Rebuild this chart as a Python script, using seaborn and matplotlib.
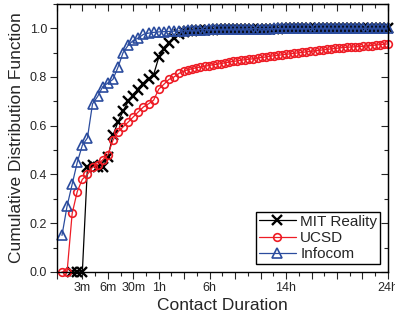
import numpy as np
import pandas as pd
import matplotlib
matplotlib.use("Agg")
import matplotlib.pyplot as plt
import matplotlib.ticker as mticker
import seaborn as sns

# Sample positions along the (index-scaled) duration axis
x_grid = [0.2, 0.4, 0.6, 0.8, 1.0, 1.2, 1.4, 1.6, 1.8, 2.0,
          2.2, 2.4, 2.6, 2.8, 3.0, 3.2, 3.4, 3.6, 3.8, 4.0,
          4.2, 4.4, 4.6, 4.8, 5.0, 5.16, 5.32, 5.48, 5.64, 5.8,
          5.96, 6.12, 6.28, 6.44, 6.6, 6.76, 6.92, 7.08, 7.24, 7.4,
          7.56, 7.72, 7.88, 8.04, 8.2, 8.36, 8.52, 8.68, 8.84, 9.0,
          9.16, 9.32, 9.48, 9.64, 9.8, 9.96, 10.12, 10.28, 10.44, 10.6,
          10.76, 10.92, 11.08, 11.24, 11.4, 11.56, 11.72, 11.88, 12.04, 12.2,
          12.36, 12.52, 12.68, 12.84, 13.0]

# CDF values
infocom = [0.15, 0.27, 0.36, 0.45, 0.52, 0.55, 0.69, 0.72, 0.76, 0.775,
           0.79, 0.84, 0.90, 0.93, 0.95, 0.96, 0.975, 0.98, 0.983, 0.985,
           0.986, 0.987, 0.988, 0.989, 0.99, 0.991, 0.992, 0.993, 0.994, 0.994,
           0.995, 0.995, 0.995, 0.996, 0.996, 0.996, 0.997, 0.997, 0.997, 0.997,
           0.998, 0.998, 0.998, 0.998, 0.998, 0.998, 0.999, 0.999, 0.999, 0.999,
           0.999, 0.999, 0.999, 0.999, 0.999, 0.999, 1.0, 1.0, 1.0, 1.0,
           1.0, 1.0, 1.0, 1.0, 1.0, 1.0, 1.0, 1.0, 1.0, 1.0,
           1.0, 1.0, 1.0, 1.0, 1.0]

ucsd = [0.0, 0.0, 0.24, 0.33, 0.38, 0.40, 0.43, 0.44, 0.46, 0.48,
        0.54, 0.575, 0.595, 0.615, 0.636, 0.657, 0.677, 0.69, 0.705, 0.75,
        0.77, 0.79, 0.80, 0.815, 0.825, 0.83, 0.834, 0.838, 0.841, 0.844,
        0.847, 0.85, 0.852, 0.855, 0.858, 0.861, 0.864, 0.866, 0.869, 0.871,
        0.873, 0.875, 0.878, 0.88, 0.882, 0.885, 0.887, 0.889, 0.891, 0.893,
        0.895, 0.897, 0.899, 0.901, 0.903, 0.905, 0.907, 0.909, 0.911, 0.913,
        0.915, 0.917, 0.919, 0.921, 0.922, 0.923, 0.924, 0.925, 0.926, 0.928,
        0.929, 0.931, 0.933, 0.934, 0.936]

mit = [0.0, 0.0, 0.0, 0.43, 0.44, 0.43, 0.43, 0.47, 0.56, 0.615,
       0.66, 0.70, 0.72, 0.745, 0.77, 0.79, 0.81, 0.88, 0.915, 0.94,
       0.96, 0.975, 0.983, 0.987, 0.99, 0.991, 0.992, 0.993, 0.994, 0.994,
       0.995, 0.995, 0.995, 0.996, 0.996, 0.996, 0.997, 0.997, 0.997, 0.997,
       0.998, 0.998, 0.998, 0.998, 0.998, 0.998, 0.999, 0.999, 0.999, 0.999,
       0.999, 0.999, 0.999, 0.999, 0.999, 0.999, 1.0, 1.0, 1.0, 1.0,
       1.0, 1.0, 1.0, 1.0, 1.0, 1.0, 1.0, 1.0, 1.0, 1.0,
       1.0, 1.0, 1.0]

tick_pos = [1, 2, 3, 4, 6, 9, 13]
tick_labels = ["3m", "6m", "30m", "1h", "6h", "14h", "24h"]

sns.set_style("ticks")
plt.rcParams['font.family'] = ['Liberation Sans', 'DejaVu Sans']

fig = plt.figure(figsize=(3.95, 3.23), dpi=100)
ax = fig.add_axes([0.144, 0.158, 0.838, 0.83])

series = [
    ("MIT Reality", x_grid[2:], mit, "black", "x", 7.5),
    ("UCSD", x_grid, ucsd, "#EE1C25", "o", 5.5),
    ("Infocom", x_grid, infocom, "#2B4C9E", "^", 6.5),
]

for name, xs, ys, color, marker, ms in series:
    df = pd.DataFrame({"x": xs, "y": ys})
    sns.lineplot(data=df, x="x", y="y", ax=ax, color=color, marker=marker,
                 markersize=ms, markerfacecolor="none", markeredgecolor=color,
                 markeredgewidth=1.7 if marker == "x" else 1.2,
                 linewidth=0.9, label=name, sort=False, clip_on=False)

ax.set_xlim(0, 13)
ax.set_ylim(0, 1.1)

ax.set_xticks(range(14))
ax.set_xticklabels([tick_labels[tick_pos.index(i)] if i in tick_pos else "" for i in range(14)])
ax.xaxis.set_minor_locator(mticker.MultipleLocator(0.5))
ax.set_yticks([0, 0.2, 0.4, 0.6, 0.8, 1.0])
ax.yaxis.set_major_formatter(mticker.FormatStrFormatter("%.1f"))
ax.yaxis.set_minor_locator(mticker.MultipleLocator(0.1))
ax.tick_params(which="major", direction="out", length=5, width=0.8, labelsize=9, pad=2)
ax.tick_params(which="minor", direction="out", length=3, width=0.8)

# inward ticks on the top and right sides
top = ax.secondary_xaxis("top")
top.set_xticks(range(14))
top.xaxis.set_minor_locator(mticker.MultipleLocator(0.5))
top.tick_params(which="major", direction="in", length=5, width=0.8, labeltop=False)
top.tick_params(which="minor", direction="in", length=3, width=0.8)
right = ax.secondary_yaxis("right")
right.set_yticks([0, 0.2, 0.4, 0.6, 0.8, 1.0])
right.yaxis.set_minor_locator(mticker.MultipleLocator(0.1))
right.tick_params(which="major", direction="in", length=5, width=0.8, labelright=False)
right.tick_params(which="minor", direction="in", length=3, width=0.8)

for s in ax.spines.values():
    s.set_linewidth(1.0)
    s.set_color("black")

ax.set_xlabel("Contact Duration", fontsize=12.5, labelpad=3)
ax.set_ylabel("Cumulative Distribution Function", fontsize=12.5, labelpad=4)

leg = ax.legend(loc="lower right", fontsize=11, frameon=True, fancybox=False,
                framealpha=1, edgecolor="black", handlelength=2.4,
                borderpad=0.2, labelspacing=0.15, handletextpad=0.3,
                borderaxespad=0.5)
leg.get_frame().set_linewidth(1.0)

fig.savefig("out.png", dpi=100)
